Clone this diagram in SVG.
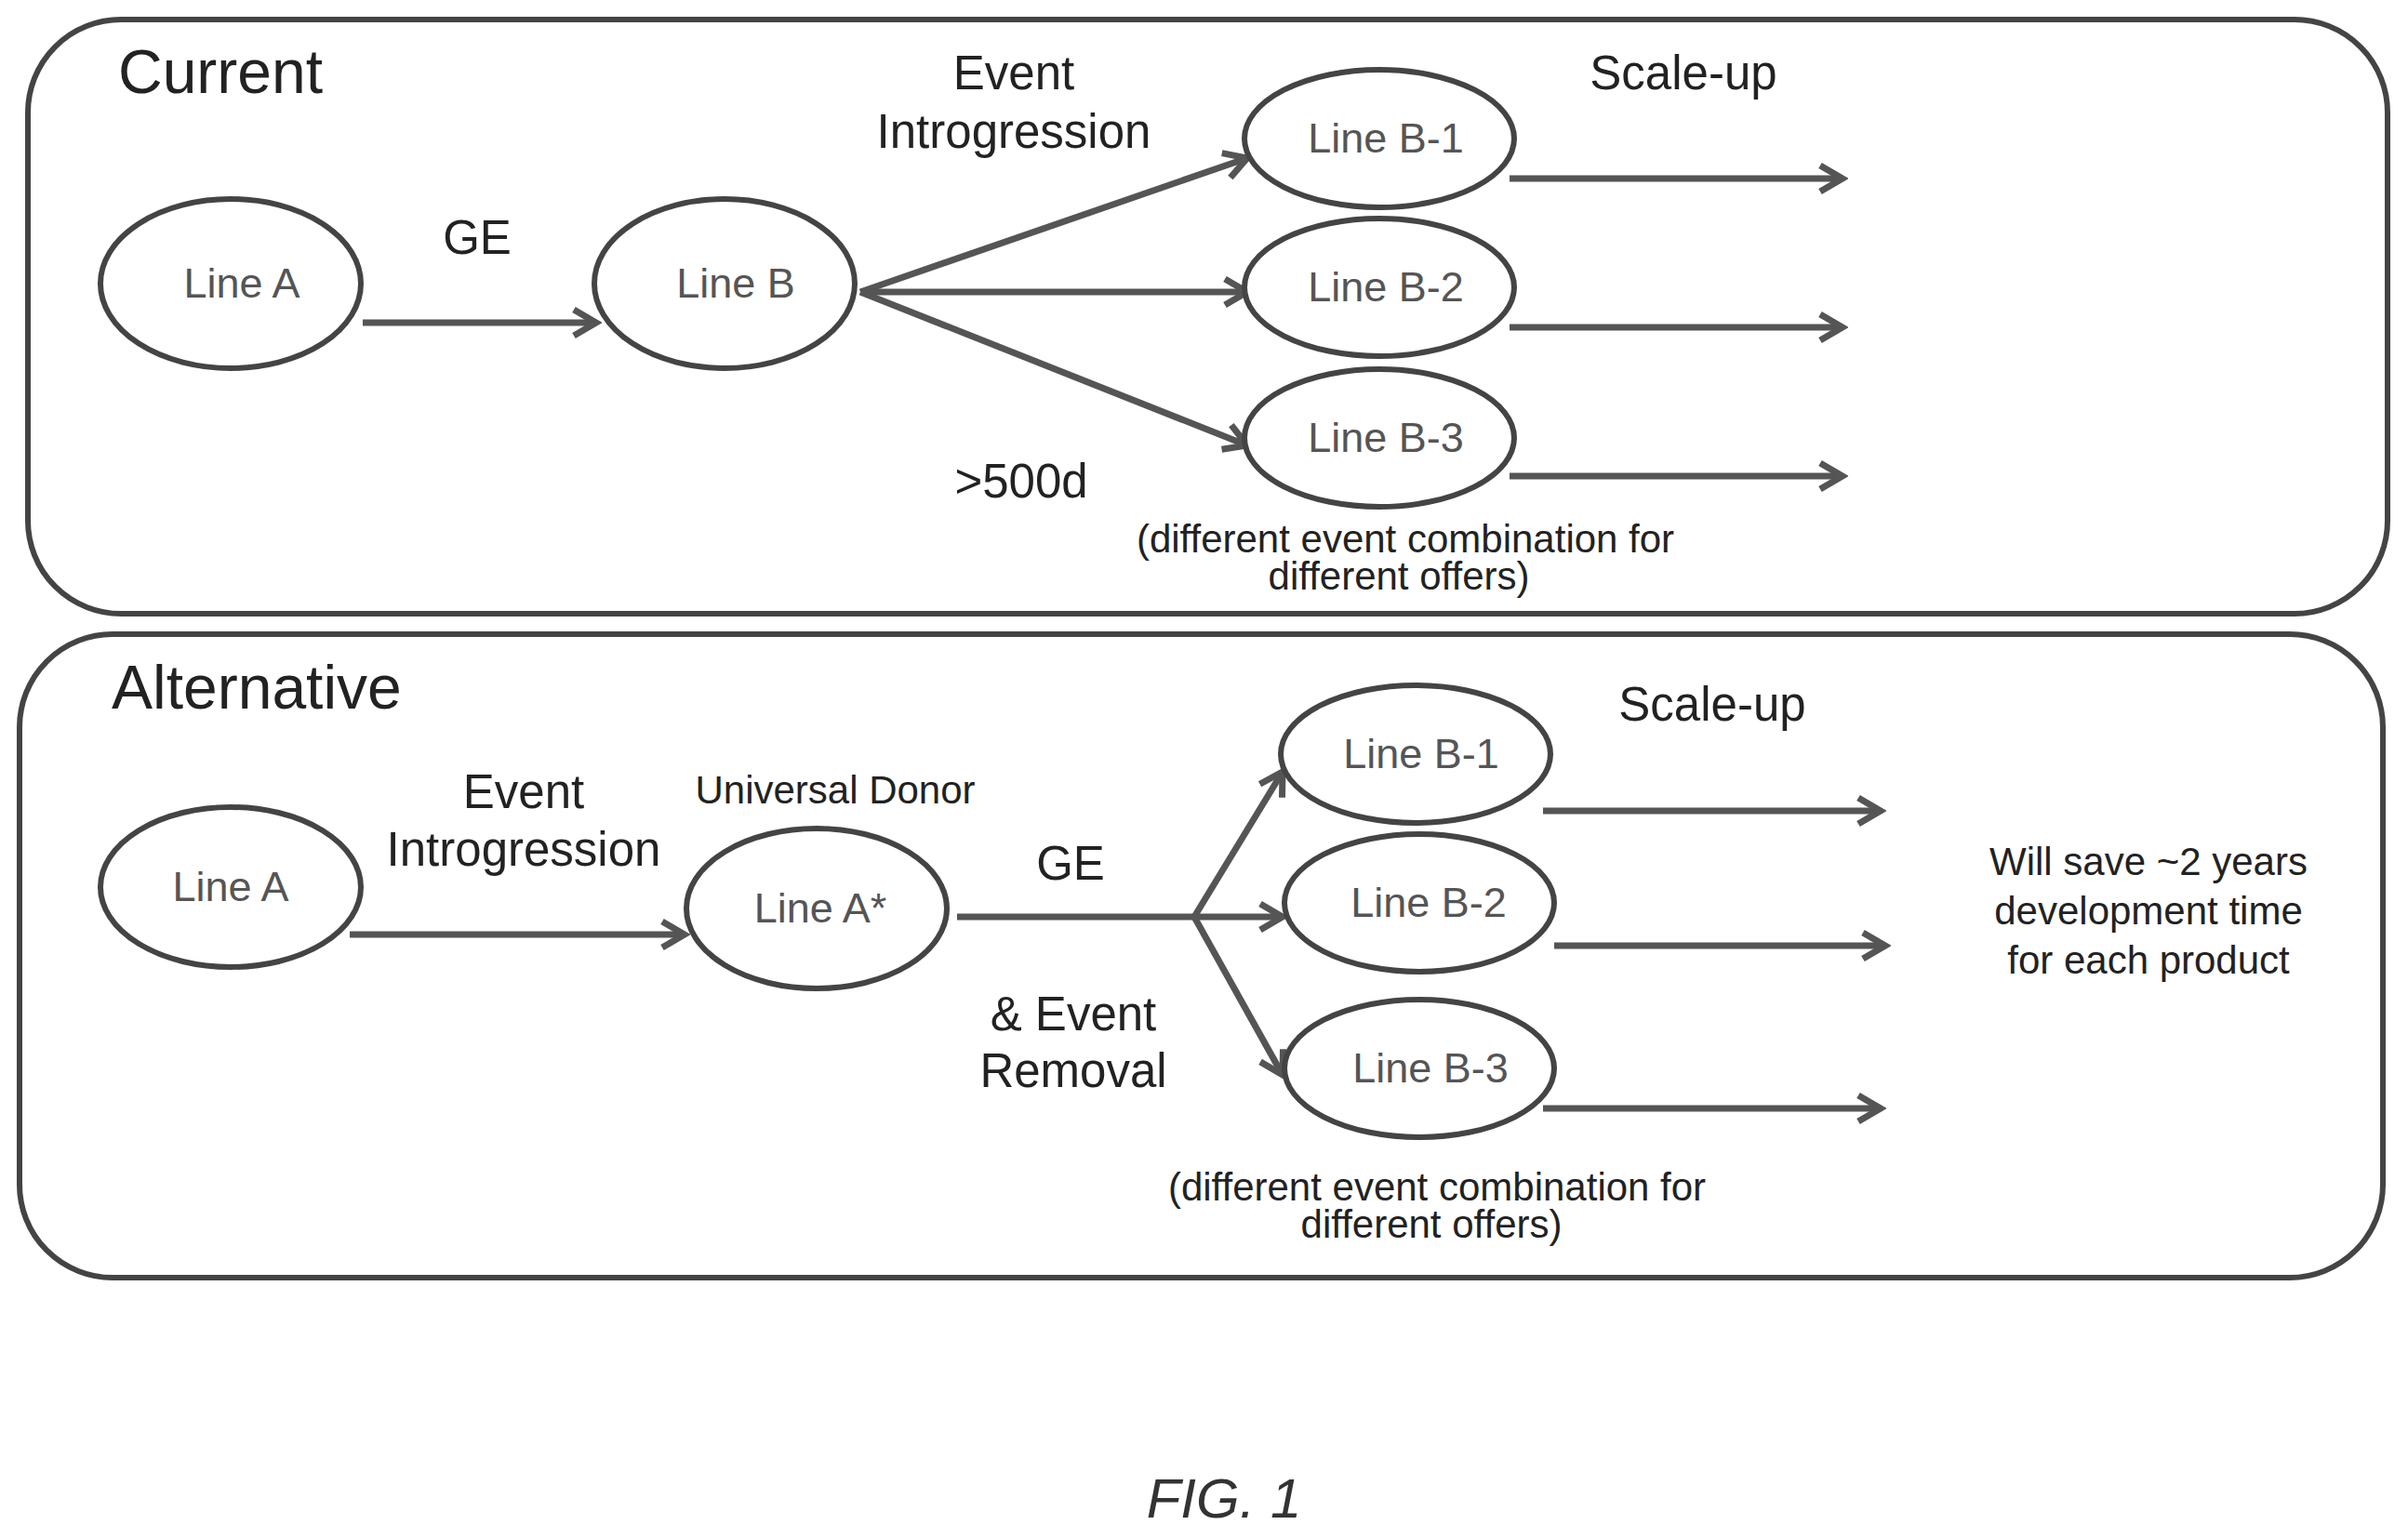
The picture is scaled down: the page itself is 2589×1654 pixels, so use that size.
<svg xmlns="http://www.w3.org/2000/svg" width="2589" height="1654" viewBox="0 0 2589 1654">
<style>
.box{fill:none;stroke:#444;stroke-width:6}
.node{fill:#fff;stroke:#444;stroke-width:6}
.nt{font-family:"Liberation Sans",Arial,sans-serif;font-size:45px;fill:#555;text-anchor:middle}
.t{font-family:"Liberation Sans",Arial,sans-serif;font-size:51px;fill:#222;text-anchor:middle}
.s{font-family:"Liberation Sans",Arial,sans-serif;font-size:42px;fill:#222;text-anchor:middle}
.h{font-family:"Liberation Sans",Arial,sans-serif;font-size:66px;fill:#222}
.c{stroke:#555;stroke-width:7;fill:none}
</style>
<defs>
<marker id="ah" markerWidth="40" markerHeight="40" refX="34" refY="20" orient="auto" markerUnits="userSpaceOnUse" viewBox="0 0 40 40">
<polyline points="10,6 34,20 10,34" fill="none" stroke="#555" stroke-width="7"/>
</marker>
</defs>
<rect class="box" x="30" y="21" width="2537" height="639" rx="100"/>
<rect class="box" x="21" y="682" width="2541" height="692" rx="100"/>
<text class="h" x="127" y="100">Current</text>
<text class="h" x="120" y="762">Alternative</text>
<g id="connectors">
<line class="c" x1="390" y1="347" x2="641" y2="347" marker-end="url(#ah)"/>
<line class="c" x1="925" y1="314" x2="1341" y2="170" marker-end="url(#ah)"/>
<line class="c" x1="925" y1="314" x2="1341" y2="314" marker-end="url(#ah)"/>
<line class="c" x1="925" y1="314" x2="1341" y2="479" marker-end="url(#ah)"/>
<line class="c" x1="1623" y1="192" x2="1981" y2="192" marker-end="url(#ah)"/>
<line class="c" x1="1623" y1="352" x2="1981" y2="352" marker-end="url(#ah)"/>
<line class="c" x1="1623" y1="512" x2="1981" y2="512" marker-end="url(#ah)"/>
<line class="c" x1="376" y1="1005" x2="736" y2="1005" marker-end="url(#ah)"/>
<line class="c" x1="1029" y1="986" x2="1284" y2="986"/>
<line class="c" x1="1284" y1="986" x2="1379" y2="830" marker-end="url(#ah)"/>
<line class="c" x1="1284" y1="986" x2="1379" y2="986" marker-end="url(#ah)"/>
<line class="c" x1="1284" y1="986" x2="1379" y2="1156" marker-end="url(#ah)"/>
<line class="c" x1="1659" y1="872" x2="2022" y2="872" marker-end="url(#ah)"/>
<line class="c" x1="1671" y1="1017" x2="2027" y2="1017" marker-end="url(#ah)"/>
<line class="c" x1="1659" y1="1192" x2="2022" y2="1192" marker-end="url(#ah)"/>
</g>
<g id="lineA1"><ellipse class="node" cx="248" cy="305" rx="140" ry="91"/><text class="nt" x="260" y="320">Line A</text></g>
<g id="lineB"><ellipse class="node" cx="779" cy="305" rx="140" ry="91"/><text class="nt" x="791" y="320">Line B</text></g>
<g id="lineB1"><ellipse class="node" cx="1483" cy="149" rx="145" ry="74"/><text class="nt" x="1490" y="164">Line B-1</text></g>
<g id="lineB2"><ellipse class="node" cx="1483" cy="309" rx="145" ry="74"/><text class="nt" x="1490" y="324">Line B-2</text></g>
<g id="lineB3"><ellipse class="node" cx="1483" cy="471" rx="145" ry="74"/><text class="nt" x="1490" y="486">Line B-3</text></g>
<g id="lineA2"><ellipse class="node" cx="248" cy="954" rx="140" ry="86"/><text class="nt" x="248" y="969">Line A</text></g>
<g id="lineAstar"><ellipse class="node" cx="878" cy="977" rx="140" ry="86"/><text class="nt" x="882" y="992">Line A*</text></g>
<g id="altB1"><ellipse class="node" cx="1522" cy="811" rx="145" ry="74"/><text class="nt" x="1528" y="826">Line B-1</text></g>
<g id="altB2"><ellipse class="node" cx="1526" cy="971" rx="145" ry="74"/><text class="nt" x="1536" y="986">Line B-2</text></g>
<g id="altB3"><ellipse class="node" cx="1526" cy="1149" rx="145" ry="74"/><text class="nt" x="1538" y="1164">Line B-3</text></g>
<text class="t" x="513" y="273">GE</text>
<text class="t" x="1090" y="96">Event</text>
<text class="t" x="1090" y="159">Introgression</text>
<text class="t" x="1810" y="96">Scale-up</text>
<text class="t" x="1098" y="535">&gt;500d</text>
<text class="s" x="1511" y="594">(different event combination for</text>
<text class="s" x="1504" y="634">different offers)</text>
<text class="t" x="563" y="869">Event</text>
<text class="t" x="563" y="931">Introgression</text>
<text class="s" x="898" y="864">Universal Donor</text>
<text class="t" x="1151" y="946">GE</text>
<text class="t" x="1154" y="1108">&amp; Event</text>
<text class="t" x="1154" y="1169">Removal</text>
<text class="t" x="1841" y="775">Scale-up</text>
<text class="s" x="2310" y="941">Will save ~2 years</text>
<text class="s" x="2310" y="994">development time</text>
<text class="s" x="2310" y="1047">for each product</text>
<text class="s" x="1545" y="1291">(different event combination for</text>
<text class="s" x="1539" y="1331">different offers)</text>
<text x="1316" y="1632" font-family="Liberation Sans,Arial,sans-serif" font-size="60" font-style="italic" fill="#333" text-anchor="middle">FIG. 1</text>
</svg>
